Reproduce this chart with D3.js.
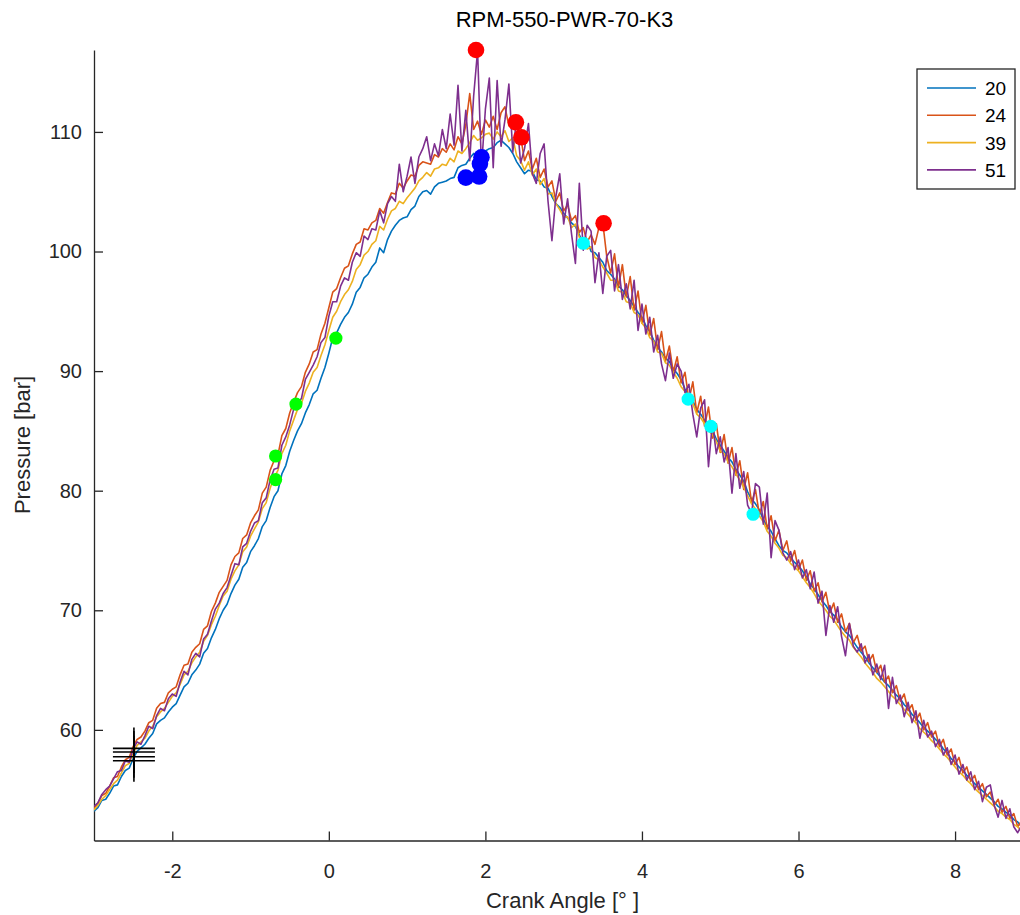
<!DOCTYPE html>
<html>
<head>
<meta charset="utf-8">
<script src="https://cdn.jsdelivr.net/npm/d3@7/dist/d3.min.js"></script>
<style>
body { margin: 0; background: #fff; }
svg { display: block; font-family: "Liberation Sans", Arial, Helvetica, sans-serif; }
</style>
</head>
<body>
<div id="chart"></div>
<script>
width = 1020;
height = 915;

// crank angle grid, -3 .. 9 deg in 0.05 steps
const angles = d3.range(0, 241).map(i => -3 + i * 0.05);

const seriesNames = ["20", "24", "39", "51"];
const seriesColors = ["#0072BD", "#D95319", "#EDB120", "#7E2F8E"];

const p20 = [
  53.2, 53.5, 54.1, 54.2, 54.7, 55.3, 55.4, 56.1, 56.6, 56.8,
  57.6, 58.2, 58.5, 58.8, 59.3, 59.7, 60.5, 60.8, 61.0, 61.5,
  61.9, 62.2, 62.9, 63.6, 63.9, 64.6, 65.0, 65.5, 66.4, 66.8,
  67.7, 68.4, 69.3, 70.0, 70.5, 71.4, 72.1, 72.6, 73.6, 74.0,
  74.9, 75.4, 76.0, 77.0, 77.5, 78.6, 79.5, 80.0, 81.4, 82.1,
  83.3, 84.2, 85.0, 85.6, 86.5, 87.2, 88.1, 88.4, 89.4, 90.3,
  91.5, 92.8, 93.2, 93.9, 94.5, 94.9, 95.6, 96.6, 97.0, 97.8,
  98.1, 98.7, 99.1, 100.3, 99.9, 101.0, 101.7, 102.2, 102.6, 102.8,
  102.9, 103.5, 103.8, 104.6, 105.0, 105.1, 104.8, 105.4, 105.7, 105.8,
  105.9, 106.1, 106.2, 107.0, 107.2, 107.3, 107.8, 108.2, 107.9, 108.0,
  108.4, 108.6, 108.7, 109.1, 109.3, 109.0, 108.7, 108.2, 107.5, 107.0,
  106.5, 106.8, 106.7, 106.0, 105.9, 105.4, 105.3, 104.6, 104.0, 103.7,
  103.2, 102.8, 102.4, 102.1, 101.4, 100.7, 100.9, 100.0, 99.9, 99.5,
  99.1, 98.4, 98.1, 97.7, 97.1, 96.8, 96.3, 95.9, 95.4, 94.9,
  94.5, 93.8, 93.3, 92.6, 92.0, 91.6, 91.1, 90.8, 90.2, 89.8,
  89.3, 88.5, 87.9, 87.5, 86.8, 86.4, 85.9, 85.5, 85.1, 84.3,
  83.8, 83.3, 82.8, 82.4, 81.8, 81.3, 80.8, 79.9, 79.3, 78.9,
  78.4, 77.6, 77.0, 76.6, 76.0, 75.4, 75.0, 74.8, 74.4, 74.0,
  73.7, 73.3, 72.8, 72.2, 71.8, 71.3, 70.8, 70.4, 69.9, 69.6,
  69.2, 68.6, 68.2, 67.9, 67.4, 66.9, 66.5, 66.1, 65.6, 65.2,
  64.8, 64.4, 64.0, 63.7, 63.3, 62.9, 62.6, 62.1, 61.8, 61.3,
  61.0, 60.6, 60.2, 59.9, 59.6, 59.2, 58.9, 58.4, 58.1, 57.6,
  57.3, 56.9, 56.6, 56.2, 55.9, 55.5, 55.2, 54.9, 54.6, 54.3,
  54.0, 53.6, 53.4, 53.1, 52.9, 52.5, 52.3, 51.9, 51.7, 51.4,
  51.2
];

const p24 = [
  53.4, 53.9, 54.5, 54.7, 55.3, 56.0, 56.1, 56.9, 57.5, 57.7,
  58.6, 59.2, 59.4, 59.9, 60.6, 60.8, 61.8, 62.2, 62.3, 63.1,
  63.4, 63.6, 64.6, 65.4, 65.5, 66.5, 66.9, 67.2, 68.4, 68.7,
  69.9, 70.6, 71.5, 72.0, 72.5, 73.8, 74.5, 74.8, 76.0, 76.3,
  77.3, 77.9, 78.4, 79.8, 80.3, 81.7, 82.5, 83.0, 84.6, 85.2,
  86.5, 87.4, 88.2, 88.7, 89.9, 90.6, 91.6, 91.8, 93.1, 94.0,
  95.3, 96.6, 96.9, 97.8, 98.6, 98.8, 99.8, 100.6, 100.8, 101.9,
  101.8, 102.4, 102.6, 103.6, 103.2, 104.1, 104.9, 104.8, 105.7, 105.3,
  105.9, 106.4, 106.3, 107.2, 107.5, 107.4, 107.3, 108.1, 107.9, 108.6,
  108.3, 109.0, 108.5, 109.6, 109.0, 110.6, 113.2, 110.2, 110.9, 109.8,
  111.0, 110.4, 111.3, 110.2, 111.6, 112.1, 110.5, 111.0, 110.8, 109.6,
  107.6, 108.4, 106.9, 107.8, 106.2, 106.9, 105.4, 105.9, 104.2, 104.9,
  103.4, 103.9, 102.6, 103.0, 101.6, 102.0, 100.8, 101.4, 100.6, 102.0,
  102.4, 99.6, 98.2, 99.8, 97.0, 98.9, 96.2, 97.9, 95.1, 96.7,
  94.0, 95.5, 93.0, 94.4, 91.8, 93.3, 90.8, 92.1, 89.9, 91.2,
  89.0, 89.9, 87.6, 89.1, 86.5, 87.9, 85.4, 87.0, 84.4, 85.6,
  83.2, 84.7, 82.3, 83.6, 81.3, 82.5, 80.1, 81.5, 79.0, 80.1,
  78.0, 79.1, 76.8, 77.9, 75.8, 76.7, 75.0, 75.8, 74.1, 75.0,
  73.4, 74.2, 72.5, 73.3, 71.6, 72.3, 70.7, 71.5, 69.8, 70.6,
  69.0, 69.7, 68.2, 68.9, 67.3, 67.9, 66.6, 67.0, 65.7, 66.3,
  64.8, 65.4, 64.0, 64.5, 63.1, 63.7, 62.4, 63.0, 61.6, 62.1,
  60.8, 61.4, 60.0, 60.6, 59.4, 59.9, 58.6, 59.2, 57.9, 58.4,
  57.1, 57.7, 56.4, 56.9, 55.7, 56.2, 55.0, 55.5, 54.4, 54.8,
  53.7, 54.2, 53.1, 53.6, 52.6, 53.0, 51.9, 52.4, 51.4, 51.7,
  51.0
];

const p39 = [
  53.3, 53.7, 54.2, 54.5, 55.0, 55.5, 55.8, 56.4, 57.0, 57.2,
  58.0, 58.7, 59.0, 59.3, 59.9, 60.3, 61.1, 61.5, 61.8, 62.3,
  62.8, 63.1, 63.8, 64.6, 64.9, 65.6, 66.1, 66.5, 67.4, 67.9,
  68.8, 69.5, 70.4, 71.2, 71.6, 72.6, 73.3, 73.8, 74.9, 75.3,
  76.2, 76.8, 77.4, 78.5, 79.0, 80.2, 81.1, 81.7, 83.1, 83.8,
  85.0, 85.9, 86.8, 87.3, 88.3, 89.0, 89.9, 90.3, 91.3, 92.2,
  93.4, 94.5, 95.0, 95.8, 96.4, 96.8, 97.5, 98.5, 98.9, 99.7,
  100.0, 100.6, 100.9, 102.1, 101.8, 102.7, 103.4, 103.6, 104.2, 104.0,
  104.5, 104.9, 105.3, 105.9, 106.2, 106.6, 106.3, 106.9, 107.0, 107.3,
  107.2, 107.8, 107.5, 108.4, 108.2, 108.6, 109.1, 109.7, 109.3, 109.5,
  109.8, 109.9, 109.4, 110.0, 109.6, 110.1, 109.2, 109.5, 108.0, 107.6,
  106.8, 107.5, 106.4, 106.9, 105.6, 106.1, 104.8, 104.9, 104.0, 103.5,
  102.9, 102.9, 102.0, 102.3, 101.2, 100.9, 100.2, 100.4, 99.5, 99.3,
  98.7, 98.2, 97.6, 97.6, 96.7, 96.6, 95.8, 95.7, 94.9, 94.7,
  94.0, 93.6, 92.8, 92.5, 91.6, 91.5, 90.7, 90.5, 89.9, 89.4,
  88.7, 88.3, 87.4, 87.3, 86.4, 86.1, 85.6, 85.0, 84.7, 84.1,
  83.3, 83.1, 82.4, 82.0, 81.4, 80.9, 80.3, 79.6, 78.9, 78.5,
  77.9, 77.4, 76.6, 76.2, 75.6, 75.2, 74.6, 74.4, 73.9, 73.6,
  73.3, 72.8, 72.3, 71.9, 71.4, 70.8, 70.4, 70.0, 69.5, 69.2,
  68.7, 68.2, 67.8, 67.5, 66.9, 66.5, 66.1, 65.6, 65.2, 64.8,
  64.3, 64.0, 63.6, 63.2, 62.8, 62.5, 62.1, 61.7, 61.3, 60.9,
  60.6, 60.1, 59.8, 59.5, 59.1, 58.8, 58.4, 58.0, 57.7, 57.3,
  56.9, 56.5, 56.2, 55.8, 55.5, 55.1, 54.8, 54.5, 54.2, 53.9,
  53.6, 53.2, 53.0, 52.7, 52.5, 52.1, 51.9, 51.5, 51.3, 51.0,
  50.8
];

const p51 = [
  53.6, 53.9, 54.6, 55.0, 55.3, 55.9, 56.5, 56.6, 57.4, 57.3,
  58.4, 59.0, 58.8, 59.5, 60.3, 60.1, 61.2, 61.8, 61.6, 62.6,
  63.0, 62.8, 64.0, 64.9, 64.6, 65.9, 66.4, 66.1, 67.6, 68.0,
  69.1, 70.1, 70.6, 71.4, 71.9, 72.9, 73.9, 73.8, 75.3, 75.6,
  76.6, 77.3, 77.5, 79.0, 79.4, 80.9, 81.8, 81.9, 83.8, 84.5,
  85.5, 86.8, 87.4, 87.7, 89.3, 89.9, 90.5, 91.2, 92.4, 92.8,
  94.6, 95.8, 95.8, 97.1, 97.8, 97.6, 99.1, 99.9, 99.6, 101.3,
  101.0, 101.9, 101.8, 103.4, 102.4, 104.0, 104.6, 104.2, 107.3, 105.0,
  106.3, 107.9, 105.7, 107.9, 108.6, 109.6, 107.6, 109.0, 108.0, 110.2,
  108.6, 111.5, 108.9, 113.9, 108.4, 111.8, 107.6, 113.0, 116.8, 107.0,
  111.9, 114.5, 107.0, 114.3, 108.8, 111.0, 114.0, 108.3, 111.2, 107.4,
  108.6, 110.7, 106.5, 105.7, 108.2, 109.0, 104.2, 100.9, 104.6, 106.5,
  102.3, 104.4, 101.5, 99.0, 105.7, 100.1, 102.2, 101.7, 97.4, 99.9,
  96.5, 99.6, 100.1, 96.7, 98.9, 96.0, 97.3, 95.2, 97.6, 93.4,
  95.6, 93.1, 94.5, 91.6, 93.0, 90.6, 89.2, 91.5, 89.4, 90.6,
  90.0, 88.2, 88.9, 86.4, 84.5, 86.9, 87.6, 82.0, 85.7, 83.1,
  84.5, 82.4, 83.6, 79.8, 83.1, 80.2, 81.6, 78.8, 78.1, 80.6,
  80.3, 77.2, 79.8, 74.4, 77.5, 76.7, 74.8, 74.2, 74.9, 73.4,
  74.2, 72.7, 73.4, 71.8, 73.2, 70.6, 71.6, 67.9, 70.4, 69.0,
  70.3, 67.8, 66.2, 68.9, 67.0, 66.5, 67.2, 65.6, 66.3, 64.6,
  65.5, 64.2, 65.4, 61.8, 64.4, 62.2, 62.9, 61.1, 62.3, 60.6,
  61.6, 59.3, 60.8, 59.4, 59.9, 58.6, 59.2, 57.9, 58.5, 57.1,
  57.9, 56.3, 57.1, 55.8, 56.5, 55.0, 55.7, 54.0, 55.2, 55.4,
  53.7, 52.7, 54.1, 52.6, 53.4, 51.9, 51.4, 52.0, 51.1, 51.3,
  50.8
];

// marker points [angle, pressure]
const redPts = [[1.88, 116.85], [2.39, 110.8], [2.46, 109.55], [3.51, 102.36]];
const bluePts = [[1.75, 106.18], [1.92, 106.27], [1.93, 107.33], [1.95, 107.88]];
const greenPts = [[0.09, 92.76], [-0.42, 87.24], [-0.68, 82.9], [-0.68, 80.93]];
const cyanPts = [[3.25, 100.69], [4.59, 87.66], [4.88, 85.38], [5.42, 78.03]];
const crossPts = [[-2.49, 58.45], [-2.49, 58.15], [-2.49, 57.75], [-2.49, 57.42]];

const xTicks = [-2, 0, 2, 4, 6, 8];
const yTicks = [60, 70, 80, 90, 100, 110];

const axisColor = "#262626";
const margin = {top: 50, right: -11, bottom: 74.5, left: 94};

let svg = d3.select("#chart").append("svg")
    .attr("width", width)
    .attr("height", height);

let x = d3.scaleLinear()
    .domain([-3, 8.97])
    .range([margin.left, width - margin.right]);

let y = d3.scaleLinear()
    .domain([50.75, 116.85])
    .range([height - margin.bottom, margin.top]);

svg.append("clipPath")
    .attr("id", "plotclip")
    .append("rect")
    .attr("x", x.range()[0])
    .attr("y", y.range()[1])
    .attr("width", x.range()[1] - x.range()[0])
    .attr("height", y.range()[0] - y.range()[1]);

// axes, matlab style: plain hyphen for negatives
let fmt = d => String(d);

let xAxis = svg.append("g")
    .attr("transform", "translate(0," + y.range()[0] + ")")
    .call(d3.axisBottom(x).tickValues(xTicks).tickFormat(fmt).tickSizeInner(-9).tickSizeOuter(0));

let yAxis = svg.append("g")
    .attr("transform", "translate(" + x.range()[0] + ",0)")
    .call(d3.axisLeft(y).tickValues(yTicks).tickFormat(fmt).tickSizeInner(-9).tickSizeOuter(0).tickPadding(12));

[xAxis, yAxis].forEach(a => {
    a.select(".domain").attr("stroke", axisColor).attr("stroke-width", 1.3);
    a.selectAll(".tick line").attr("stroke", axisColor).attr("stroke-width", 1.3);
    a.selectAll(".tick text")
        .attr("fill", axisColor)
        .style("font-size", "20px")
        .style("font-family", "'Liberation Sans', Arial, sans-serif");
});
xAxis.selectAll(".tick text").attr("dy", "0.71em").attr("y", 23);

// curves
let line = d3.line()
    .x((d, i) => x(angles[i]))
    .y(d => y(d));

let plot = svg.append("g").attr("clip-path", "url(#plotclip)");

[p20, p24, p39, p51].forEach((s, k) => {
    plot.append("path")
        .datum(s)
        .attr("d", line)
        .attr("fill", "none")
        .attr("stroke", seriesColors[k])
        .attr("stroke-width", 1.6)
        .attr("stroke-linejoin", "round");
});

// markers are not clipped
let marks = svg.append("g");

function drawDots(pts, col, r){
    marks.selectAll(null)
        .data(pts)
        .enter()
        .append("circle")
        .attr("cx", d => x(d[0]))
        .attr("cy", d => y(d[1]))
        .attr("r", r)
        .attr("fill", col);
}
drawDots(redPts, "#FF0000", 8.3);
drawDots(bluePts, "#0000FF", 8.3);
drawDots(greenPts, "#00FF00", 6.6);
drawDots(cyanPts, "#00FFFF", 6.6);

let cross = marks.selectAll(".cross")
    .data(crossPts)
    .enter()
    .append("g")
    .attr("transform", d => "translate(" + x(d[0]) + "," + y(d[1]) + ")");
cross.append("line").attr("x1", -21).attr("x2", 21).attr("y1", 0).attr("y2", 0)
    .attr("stroke", "#000").attr("stroke-width", 1.6);
cross.append("line").attr("x1", 0).attr("x2", 0).attr("y1", -21).attr("y2", 21)
    .attr("stroke", "#000").attr("stroke-width", 1.6);

// titles
svg.append("text")
    .attr("x", 564.5)
    .attr("y", 27)
    .attr("text-anchor", "middle")
    .style("font-size", "22px")
    .attr("fill", "#000")
    .text("RPM-550-PWR-70-K3");

svg.append("text")
    .attr("x", 562.5)
    .attr("y", 908)
    .attr("text-anchor", "middle")
    .style("font-size", "22px")
    .attr("fill", axisColor)
    .text("Crank Angle [° ]");

svg.append("text")
    .attr("transform", "translate(30," + 445 + ") rotate(-90)")
    .attr("text-anchor", "middle")
    .style("font-size", "22px")
    .attr("fill", axisColor)
    .text("Pressure [bar]");

// legend
let legend = svg.append("g");
legend.append("rect")
    .attr("x", 917).attr("y", 69)
    .attr("width", 98).attr("height", 120)
    .attr("fill", "#fff")
    .attr("stroke", axisColor)
    .attr("stroke-width", 1.3);

seriesNames.forEach((n, k) => {
    let cy = 88 + k * 27.3;
    legend.append("line")
        .attr("x1", 927).attr("x2", 976)
        .attr("y1", cy).attr("y2", cy)
        .attr("stroke", seriesColors[k])
        .attr("stroke-width", 1.6);
    legend.append("text")
        .attr("x", 985)
        .attr("y", cy + 7)
        .style("font-size", "19px")
        .attr("fill", "#000")
        .text(n);
});
</script>
</body>
</html>
